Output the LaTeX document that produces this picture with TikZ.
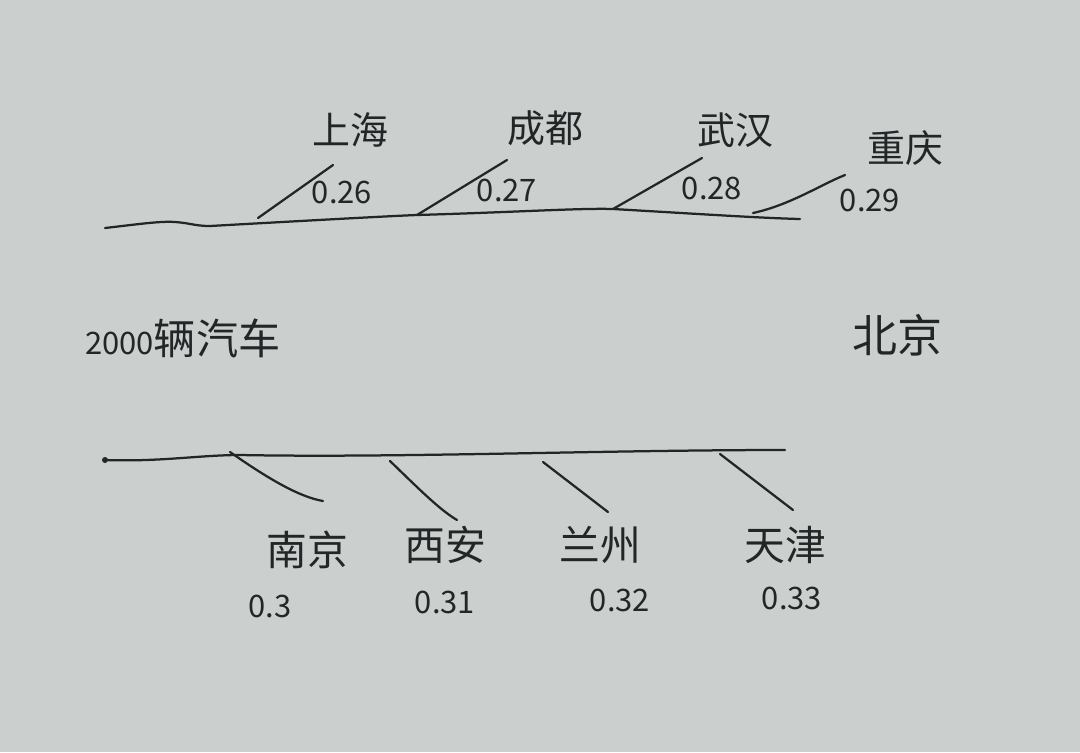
\documentclass[tikz,border=0pt]{standalone}
\usepackage{fontspec}
\newfontfamily\cjk{Noto Sans CJK SC}
\definecolor{paper}{RGB}{203,207,206}
\definecolor{ink}{RGB}{35,38,38}
\begin{document}
\begin{tikzpicture}[x=0.025cm,y=-0.025cm,
  pen/.style={draw=ink,line width=1.6pt,line cap=round,line join=round},
  city/.style={text=ink,font=\cjk\fontsize{27}{30}\selectfont,inner sep=0pt},
  val/.style={text=ink,font=\cjk\fontsize{22}{25}\selectfont,inner sep=0pt}]
\fill[paper] (0,0) rectangle (1080,752);
\useasboundingbox (0,0) rectangle (1080,752);
% spine coordinates
\coordinate (t0) at (105,228);
\coordinate (t1) at (800,219);
\coordinate (b0) at (105,460);
\coordinate (b1) at (785,450);
% top branch ends
\coordinate (shA) at (258,218); \coordinate (shB) at (333,165);
\coordinate (cdA) at (417,215); \coordinate (cdB) at (507,160);
\coordinate (whA) at (613,209); \coordinate (whB) at (702,158);
\coordinate (cqA) at (753,213); \coordinate (cqB) at (845,175);
% bottom branch ends
\coordinate (njA) at (230,452); \coordinate (njB) at (323,501);
\coordinate (xaA) at (390,461); \coordinate (xaB) at (457,520);
\coordinate (lzA) at (543,462); \coordinate (lzB) at (608,512);
\coordinate (tjA) at (720,454); \coordinate (tjB) at (793,510);
% spines
\draw[pen] (t0) .. controls (140,224) and (160,221) .. (175,222)
  .. controls (190,223) and (195,226) .. (210,226)
  .. controls (300,221) and (390,216) .. (417,215)
  .. controls (520,212) and (580,208) .. (613,209)
  .. controls (700,214) and (760,218) .. (t1);
\fill[ink] (b0) circle (3);
\draw[pen] (b0) .. controls (160,462) and (200,455) .. (240,455)
  .. controls (400,458) and (600,450) .. (b1);
% branches
\draw[pen] (shA) -- (shB);
\draw[pen] (cdA) -- (cdB);
\draw[pen] (whA) -- (whB);
\draw[pen] (cqA) .. controls (790,205) and (820,185) .. (cqB);
\draw[pen] (njA) .. controls (270,480) and (300,497) .. (njB);
\draw[pen] (xaA) .. controls (420,490) and (440,510) .. (xaB);
\draw[pen] (lzA) -- (lzB);
\draw[pen] (tjA) -- (tjB);
% labels
\node[city] (sh) at (350,130) {上海};
\node[val] (shv) at (342,192) {0.26};
\node[city] (cd) at (545,128) {成都};
\node[val] (cdv) at (507,190) {0.27};
\node[city] (wh) at (735,130) {武汉};
\node[val] (whv) at (712,188) {0.28};
\node[city] (cq) at (905,148) {重庆};
\node[val] (cqv) at (870,200) {0.29};
\node[city,anchor=west,font=\cjk\fontsize{30}{32}\selectfont] (car) at (85,338) {{\fontsize{22}{24}\selectfont 2000}辆汽车};
\node[city,font=\cjk\fontsize{32}{34}\selectfont] (bj) at (897,335) {北京};
\node[city,font=\cjk\fontsize{29}{32}\selectfont] (nj) at (307,550) {南京};
\node[val] (njv) at (270,606) {0.3};
\node[city,font=\cjk\fontsize{29}{32}\selectfont] (xa) at (445,545) {西安};
\node[val] (xav) at (445,602) {0.31};
\node[city,font=\cjk\fontsize{29}{32}\selectfont] (lz) at (600,545) {兰州};
\node[val] (lzv) at (620,600) {0.32};
\node[city,font=\cjk\fontsize{29}{32}\selectfont] (tj) at (785,545) {天津};
\node[val] (tjv) at (792,598) {0.33};
\end{tikzpicture}
\end{document}
